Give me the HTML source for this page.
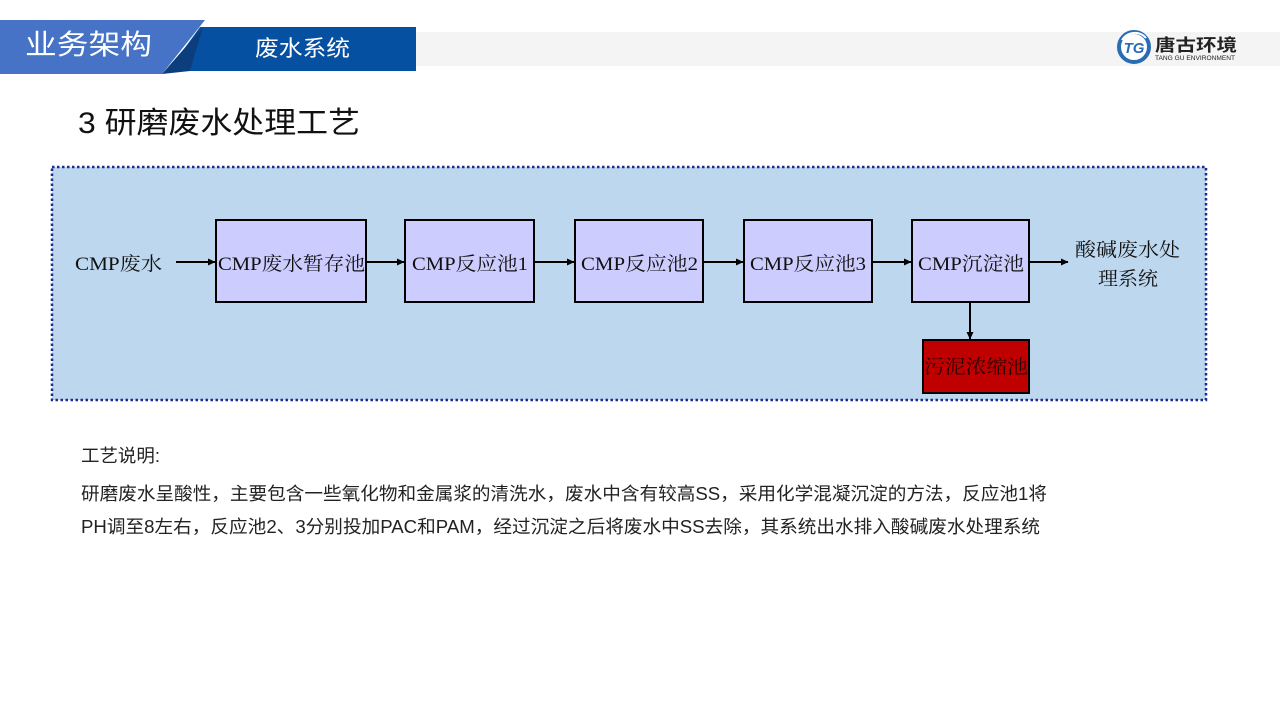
<!DOCTYPE html>
<html><head><meta charset="utf-8">
<style>
html,body{margin:0;padding:0;background:#fff;}
svg{display:block;}
.sans{font-family:"Liberation Sans","Noto Sans CJK SC",sans-serif;}
.serif{font-family:"Liberation Serif","Noto Serif CJK SC",serif;}
</style></head>
<body>
<svg width="1280" height="720" viewBox="0 0 1280 720" xmlns="http://www.w3.org/2000/svg">
  <defs>
    <marker id="ah" markerWidth="8" markerHeight="8" refX="7" refY="4" orient="auto" markerUnits="userSpaceOnUse">
      <path d="M0,0.5 L7.5,4 L0,7.5 Z" fill="#000"/>
    </marker>
  </defs>
  <!-- header -->
  <rect x="416" y="32" width="864" height="34" fill="#f4f4f4"/>
  <polygon points="200,27 416,27 416,71 168,71" fill="#0650a2"/>
  <polygon points="0,20 205,20 162,74 0,74" fill="#4673c6"/>
  <polygon points="203,27 162,74 190,71" fill="#0c3e7e"/>
  <text x="25" y="54" class="sans" font-size="28" fill="#fff" textLength="127" lengthAdjust="spacingAndGlyphs">业务架构</text>
  <text x="255" y="56" class="sans" font-size="22" fill="#fff" textLength="95" lengthAdjust="spacingAndGlyphs">废水系统</text>

  <!-- logo -->
  <circle cx="1134" cy="47" r="15" fill="#fff" stroke="#2a6cb4" stroke-width="4"/>
  <path d="M1122,40 A15,15 0 0 1 1146,38" stroke="#fff" stroke-width="2" fill="none"/>
  <text x="1134" y="53" class="sans" font-size="15" font-weight="bold" font-style="italic" fill="#2a6cb4" text-anchor="middle">TG</text>
  <text x="1155" y="51" class="sans" font-size="17" font-weight="bold" fill="#222" textLength="82" lengthAdjust="spacingAndGlyphs">唐古环境</text>
  <text x="1155" y="60" class="sans" font-size="6" fill="#222" textLength="80" lengthAdjust="spacingAndGlyphs">TANG GU ENVIRONMENT</text>

  <!-- title -->
  <text x="78" y="133" class="sans" font-size="30" fill="#111" textLength="282" lengthAdjust="spacingAndGlyphs">3 研磨废水处理工艺</text>

  <!-- diagram background -->
  <rect x="52" y="167" width="1154" height="233" fill="#bdd7ee" stroke="#1c2c8c" stroke-width="2.5" stroke-dasharray="2.5 2.5"/>

  <!-- boxes -->
  <g fill="#ccccff" stroke="#000" stroke-width="2">
    <rect x="216" y="220" width="150" height="82"/>
    <rect x="405" y="220" width="129" height="82"/>
    <rect x="575" y="220" width="128" height="82"/>
    <rect x="744" y="220" width="128" height="82"/>
    <rect x="912" y="220" width="117" height="82"/>
  </g>
  <rect x="923" y="340" width="106" height="53" fill="#c00000" stroke="#000" stroke-width="2"/>

  <!-- arrows -->
  <g stroke="#000" stroke-width="2" marker-end="url(#ah)">
    <line x1="176" y1="262" x2="215" y2="262"/>
    <line x1="366" y1="262" x2="404" y2="262"/>
    <line x1="534" y1="262" x2="574" y2="262"/>
    <line x1="703" y1="262" x2="743" y2="262"/>
    <line x1="872" y1="262" x2="911" y2="262"/>
    <line x1="1029" y1="262" x2="1068" y2="262"/>
    <line x1="970" y1="302" x2="970" y2="339"/>
  </g>

  <!-- diagram text -->
  <g class="serif" font-size="19" fill="#111">
    <text x="75" y="270" textLength="87" lengthAdjust="spacingAndGlyphs">CMP废水</text>
    <text x="218" y="270" textLength="147" lengthAdjust="spacingAndGlyphs">CMP废水暂存池</text>
    <text x="412" y="270" textLength="116" lengthAdjust="spacingAndGlyphs">CMP反应池1</text>
    <text x="581" y="270" textLength="117" lengthAdjust="spacingAndGlyphs">CMP反应池2</text>
    <text x="750" y="270" textLength="116" lengthAdjust="spacingAndGlyphs">CMP反应池3</text>
    <text x="918" y="270" textLength="106" lengthAdjust="spacingAndGlyphs">CMP沉淀池</text>
    <text x="1075" y="256" textLength="105" lengthAdjust="spacingAndGlyphs">酸碱废水处</text>
    <text x="1098" y="285" textLength="60" lengthAdjust="spacingAndGlyphs">理系统</text>
    <text x="924" y="373" fill="#2a0000" textLength="104" lengthAdjust="spacingAndGlyphs">污泥浓缩池</text>
  </g>

  <!-- body text -->
  <g class="sans" font-size="18" fill="#222">
    <text x="81" y="462" textLength="79" lengthAdjust="spacingAndGlyphs">工艺说明:</text>
    <text x="81" y="500" textLength="966" lengthAdjust="spacingAndGlyphs">研磨废水呈酸性，主要包含一些氧化物和金属浆的清洗水，废水中含有较高SS，采用化学混凝沉淀的方法，反应池1将</text>
    <text x="81" y="533" textLength="959" lengthAdjust="spacingAndGlyphs">PH调至8左右，反应池2、3分别投加PAC和PAM，经过沉淀之后将废水中SS去除，其系统出水排入酸碱废水处理系统</text>
  </g>
</svg>
</body></html>
